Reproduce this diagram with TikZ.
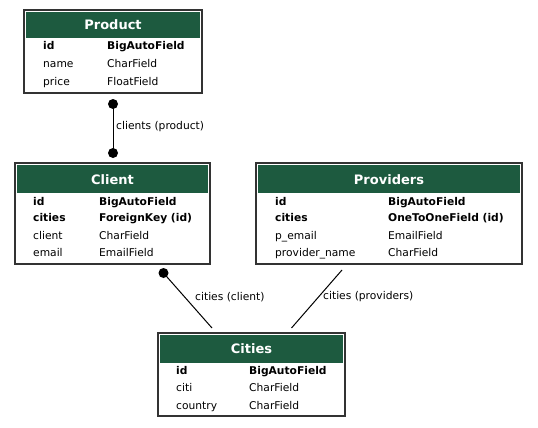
\documentclass[tikz,border=0pt]{standalone}
\usepackage{fontspec}
\setmainfont{DejaVu Sans}
\definecolor{hdr}{RGB}{29,90,63}
\definecolor{edge}{RGB}{51,51,51}
\begin{document}
\begin{tikzpicture}[x=1pt,y=-1pt,
  box/.style={draw=edge,line width=1.2pt},
  title/.style={text=white,inner sep=0,font=\fontsize{13}{15}\selectfont\bfseries},
  fld/.style={anchor=base west,inner sep=0,font=\fontsize{10.7}{12}\selectfont},
  key/.style={anchor=base west,inner sep=0,font=\fontsize{10.7}{12}\selectfont\bfseries},
  lbl/.style={anchor=west,inner sep=0,font=\fontsize{10.7}{12}\selectfont},
  conn/.style={line width=1pt},
  dot/.style={circle,fill=black,inner sep=0,minimum size=10pt}]
\useasboundingbox[fill=white] (0,0) rectangle (538,428);

% Product
\draw[box] (24,10) rectangle (202,93);
\fill[hdr] (26,12) rectangle (200,38);
\node[title] (pt) at (113,25) {Product};
\node[key] (p1a) at (43,50) {id};       \node[key] (p1b) at (107,50) {BigAutoField};
\node[fld] (p2a) at (43,67) {name};     \node[fld] (p2b) at (107,67) {CharField};
\node[fld] (p3a) at (43,85) {price};    \node[fld] (p3b) at (107,85) {FloatField};

% Client
\draw[box] (15,163) rectangle (210,264);
\fill[hdr] (17,165) rectangle (208,193);
\node[title] (ct) at (112.5,179.5) {Client};
\node[key] (c1a) at (33,205) {id};      \node[key] (c1b) at (99,205) {BigAutoField};
\node[key] (c2a) at (33,221) {cities};  \node[key] (c2b) at (99,221) {ForeignKey (id)};
\node[fld] (c3a) at (33,239) {client};  \node[fld] (c3b) at (99,239) {CharField};
\node[fld] (c4a) at (33,256) {email};   \node[fld] (c4b) at (99,256) {EmailField};

% Providers
\draw[box] (256,163) rectangle (522,264);
\fill[hdr] (258,165) rectangle (520,193);
\node[title] (prt) at (389,179.5) {Providers};
\node[key] (r1a) at (275,205) {id};             \node[key] (r1b) at (388,205) {BigAutoField};
\node[key] (r2a) at (275,221) {cities};         \node[key] (r2b) at (388,221) {OneToOneField (id)};
\node[fld] (r3a) at (275,239) {p\_email};       \node[fld] (r3b) at (388,239) {EmailField};
\node[fld] (r4a) at (275,256) {provider\_name}; \node[fld] (r4b) at (388,256) {CharField};

% Cities
\draw[box] (158,333) rectangle (345,416);
\fill[hdr] (160,335) rectangle (343,363);
\node[title] (cit) at (251.5,349) {Cities};
\node[key] (t1a) at (176,374) {id};      \node[key] (t1b) at (249,374) {BigAutoField};
\node[fld] (t2a) at (176,391) {citi};    \node[fld] (t2b) at (249,391) {CharField};
\node[fld] (t3a) at (176,409) {country}; \node[fld] (t3b) at (249,409) {CharField};

% connectors
\node[dot] (d1) at (113,104) {};
\node[dot] (d2) at (113,153) {};
\draw[conn] (d1.center) -- (d2.center);
\node[lbl] (l1) at (116,127) {clients (product)};

\node[dot] (d3) at (163.5,273) {};
\coordinate (e3) at (212,328);
\draw[conn] (d3.center) -- (e3);
\node[lbl] (l2) at (195,297) {cities (client)};

\coordinate (s4) at (342,270);
\coordinate (e4) at (291.5,328);
\draw[conn] (s4) -- (e4);
\node[lbl] (l3) at (323,297) {cities (providers)};
\end{tikzpicture}
\end{document}
